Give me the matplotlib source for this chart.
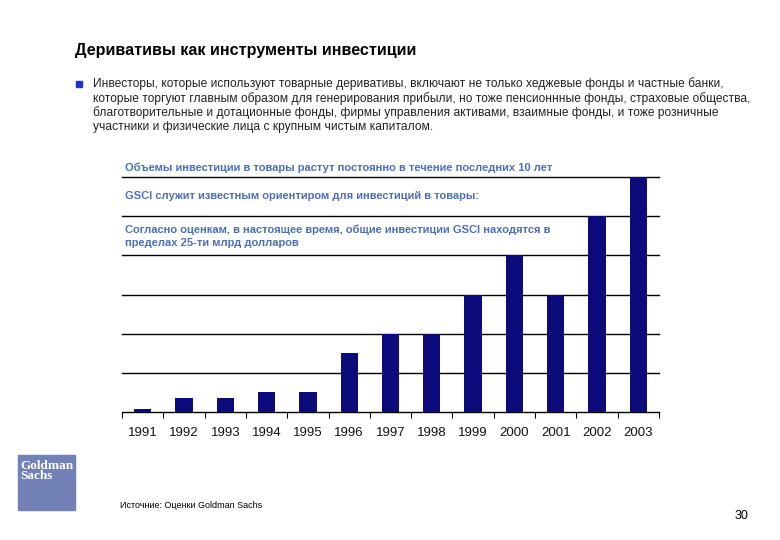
import matplotlib
matplotlib.use("Agg")
import matplotlib.pyplot as plt
from matplotlib.patches import Rectangle

plt.rcParams['font.family'] = ['Liberation Sans', 'DejaVu Sans']

# данные (млрд долл., оценка по картинке)
years = ['1991', '1992', '1993', '1994', '1995', '1996', '1997',
         '1998', '1999', '2000', '2001', '2002', '2003']
volumes = [0.4, 1.8, 1.8, 2.6, 2.6, 7.5, 10, 10, 15, 20, 15, 25, 30]
grid_levels = [5, 10, 15, 20, 25, 30]

title = 'Деривативы как инструменты инвестиции'
bullet_lines = [
    'Инвесторы, которые используют товарные деривативы, включают не только хеджевые фонды и частные банки,',
    'которые торгуют главным образом для генерирования прибыли, но тоже пенсионнные фонды, страховые общества,',
    'благотворительные и дотационные фонды, фирмы управления активами, взаимные фонды, и тоже розничные',
    'участники и физические лица с крупным чистым капиталом.',
]
notes = [
    'Объемы инвестиции в товары растут постоянно в течение последних 10 лет',
    'GSCI служит известным ориентиром для инвестиций в товары:',
    'Согласно оценкам, в настоящее время, общие инвестиции GSCI находятся в\nпределах 25-ти млрд долларов',
]
source = 'Источние: Оценки Goldman Sachs'

W, H = 780, 540


def px(x, y):
    return x / W, 1 - y / H


fig = plt.figure(figsize=(7.8, 5.4), dpi=100)
fig.patch.set_facecolor('white')

# область графика
left, right, top, bottom = 122, 659, 177, 412
ax = fig.add_axes([left / W, 1 - bottom / H, (right - left) / W, (bottom - top) / H])
x = range(len(years))
ax.bar(x, volumes, width=0.42, color='#0b0b7c', zorder=3)
for g in grid_levels:
    ax.axhline(g, color='black', lw=1, zorder=1, clip_on=False)
ax.set_xlim(-0.5, len(years) - 0.5)
ax.set_ylim(0, 30)
ax.set_yticks([])
for s in ['left', 'right', 'top']:
    ax.spines[s].set_visible(False)
ax.spines['bottom'].set_linewidth(1)
ax.set_xticks(list(x))
ax.set_xticklabels(years, fontsize=9.5, color='#111111')
ax.tick_params(axis='x', which='major', length=0, pad=11)
ax.set_xticks([i - 0.5 for i in range(len(years) + 1)], minor=True)
ax.tick_params(axis='x', which='minor', length=4, width=0.8, direction='out')

# заголовок и текст
fig.text(*px(75, 50), title, fontsize=11.6, fontweight='bold', va='center', ha='left')
fig.patches.append(Rectangle(px(76, 87), 6 / W, 6 / H, transform=fig.transFigure,
                             color='#2233cc', figure=fig))
for i, line in enumerate(bullet_lines):
    fig.text(*px(93, 84 + i * 14.2), line, fontsize=8.65, va='center', ha='left', color='#222222')

note_color = '#4b6fb8'
fig.text(*px(125, 168), notes[0], fontsize=8.0, fontweight='bold', color=note_color, va='center')
fig.text(*px(125, 196), notes[1], fontsize=8.0, fontweight='bold', color=note_color, va='center')
fig.text(*px(125, 236), notes[2], fontsize=8.0, fontweight='bold', color=note_color, va='center',
         linespacing=1.4)

# логотип
fig.patches.append(Rectangle(px(18, 510), 57 / W, 55 / H, transform=fig.transFigure,
                             color='#7282b6', figure=fig))
fig.text(*px(20, 471), 'Goldman\nSachs', fontsize=9.5, fontweight='bold', color='white',
         family='Liberation Serif', va='center', ha='left', linespacing=0.85)

fig.text(*px(120, 505), source, fontsize=6.5, va='center', ha='left')
fig.text(*px(748, 516), '30', fontsize=9, va='center', ha='right')

fig.savefig('out.png', dpi=100)
